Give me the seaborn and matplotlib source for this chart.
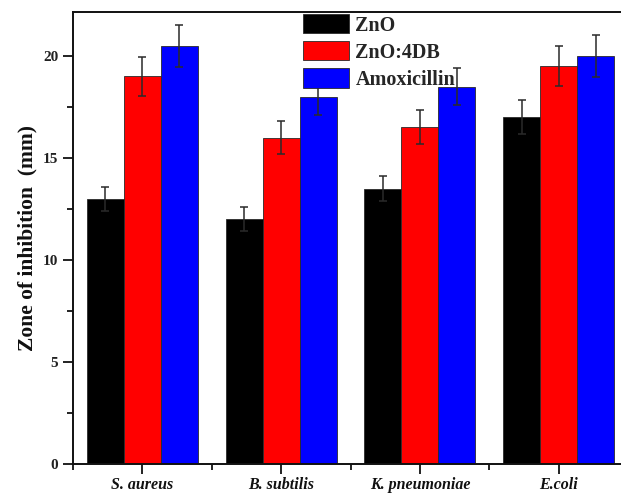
import matplotlib
matplotlib.use("Agg")
import matplotlib.pyplot as plt
from matplotlib.ticker import MultipleLocator, FixedLocator
import seaborn as sns
import pandas as pd

# Bacterial strains and measured zones of inhibition (mm)
strains = ["S. aureus", "B. subtilis", "K. pneumoniae", "E.coli"]
samples = ["ZnO", "ZnO:4DB", "Amoxicillin"]
zno = [13.0, 12.0, 13.5, 17.0]
zno_4db = [19.0, 16.0, 16.5, 19.5]
amoxicillin = [20.5, 18.0, 18.5, 20.0]
zno_err = [0.6, 0.6, 0.62, 0.83]
zno_4db_err = [0.95, 0.8, 0.83, 0.97]
amoxicillin_err = [1.02, 0.9, 0.9, 1.03]
y_ticks = [0, 5, 10, 15, 20]

colors = ["#000000", "#ff0000", "#0000ff"]

df = pd.DataFrame({
    "strain": strains * 3,
    "sample": [s for s in samples for _ in strains],
    "zone": zno + zno_4db + amoxicillin,
})
errors = [zno_err, zno_4db_err, amoxicillin_err]

sns.set_style("ticks")
plt.rcParams["font.family"] = ["Liberation Serif", "DejaVu Serif"]
plt.rcParams["font.weight"] = "bold"

fig = plt.figure(figsize=(6.21, 4.94), dpi=100)
ax = fig.add_axes([73 / 621, 30 / 494, 555 / 621, 451.5 / 494])

sns.barplot(data=df, x="strain", y="zone", hue="sample", order=strains,
            hue_order=samples, palette=colors, errorbar=None, width=0.8,
            saturation=1, edgecolor="#2a2a2a", linewidth=0.6, ax=ax)

# Symmetric standard-deviation bars on each column
for container, err in zip(ax.containers, errors):
    xs = [p.get_x() + p.get_width() / 2 for p in container.patches]
    hs = [p.get_height() for p in container.patches]
    ax.errorbar(xs, hs, yerr=err, fmt="none", ecolor="#2a2a2a",
                elinewidth=1.1, capsize=3, capthick=1.1, zorder=5)

ax.set_xlim(-0.5, 3.5)
ax.set_ylim(0, 22.13)
ax.yaxis.set_major_locator(FixedLocator(y_ticks))
ax.yaxis.set_minor_locator(MultipleLocator(2.5))
ax.xaxis.set_minor_locator(FixedLocator([-0.5, 0.5, 1.5, 2.5, 3.5]))

for side in ["left", "bottom", "top", "right"]:
    ax.spines[side].set_visible(True)
    ax.spines[side].set_linewidth(1.4)
    ax.spines[side].set_color("#111111")

ax.tick_params(axis="both", which="major", direction="out", length=7,
               width=1.3, color="#111111")
ax.tick_params(axis="both", which="minor", direction="out", length=4.5,
               width=1.3, color="#111111")
ax.tick_params(axis="x", which="both", top=False)
ax.tick_params(axis="y", which="both", right=False)

ax.set_yticklabels([str(v) for v in y_ticks], fontsize=11, fontweight="bold",
                   color="#222222")
ax.set_xticks(range(len(strains)))
ax.set_xticklabels(strains, fontsize=11.5, fontweight="bold", style="italic",
                   color="#111111")
ax.tick_params(axis="x", which="major", pad=2.5)

ax.set_xlabel("")
ax.set_ylabel("Zone of inhibition  (mm)", fontsize=15.5, fontweight="bold",
              color="#111111", labelpad=4)

handles, labels = ax.get_legend_handles_labels()
ax.legend(handles, labels, loc="upper left",
          bbox_to_anchor=(303 / 621, 1 - 14 / 494),
          bbox_transform=fig.transFigure, frameon=False,
          prop={"family": "Liberation Serif", "weight": "bold", "size": 14.5},
          handlelength=2.3, handleheight=1.1, handletextpad=0.3,
          labelspacing=0.28, borderpad=0, borderaxespad=0)

fig.savefig("out.png", dpi=100)
